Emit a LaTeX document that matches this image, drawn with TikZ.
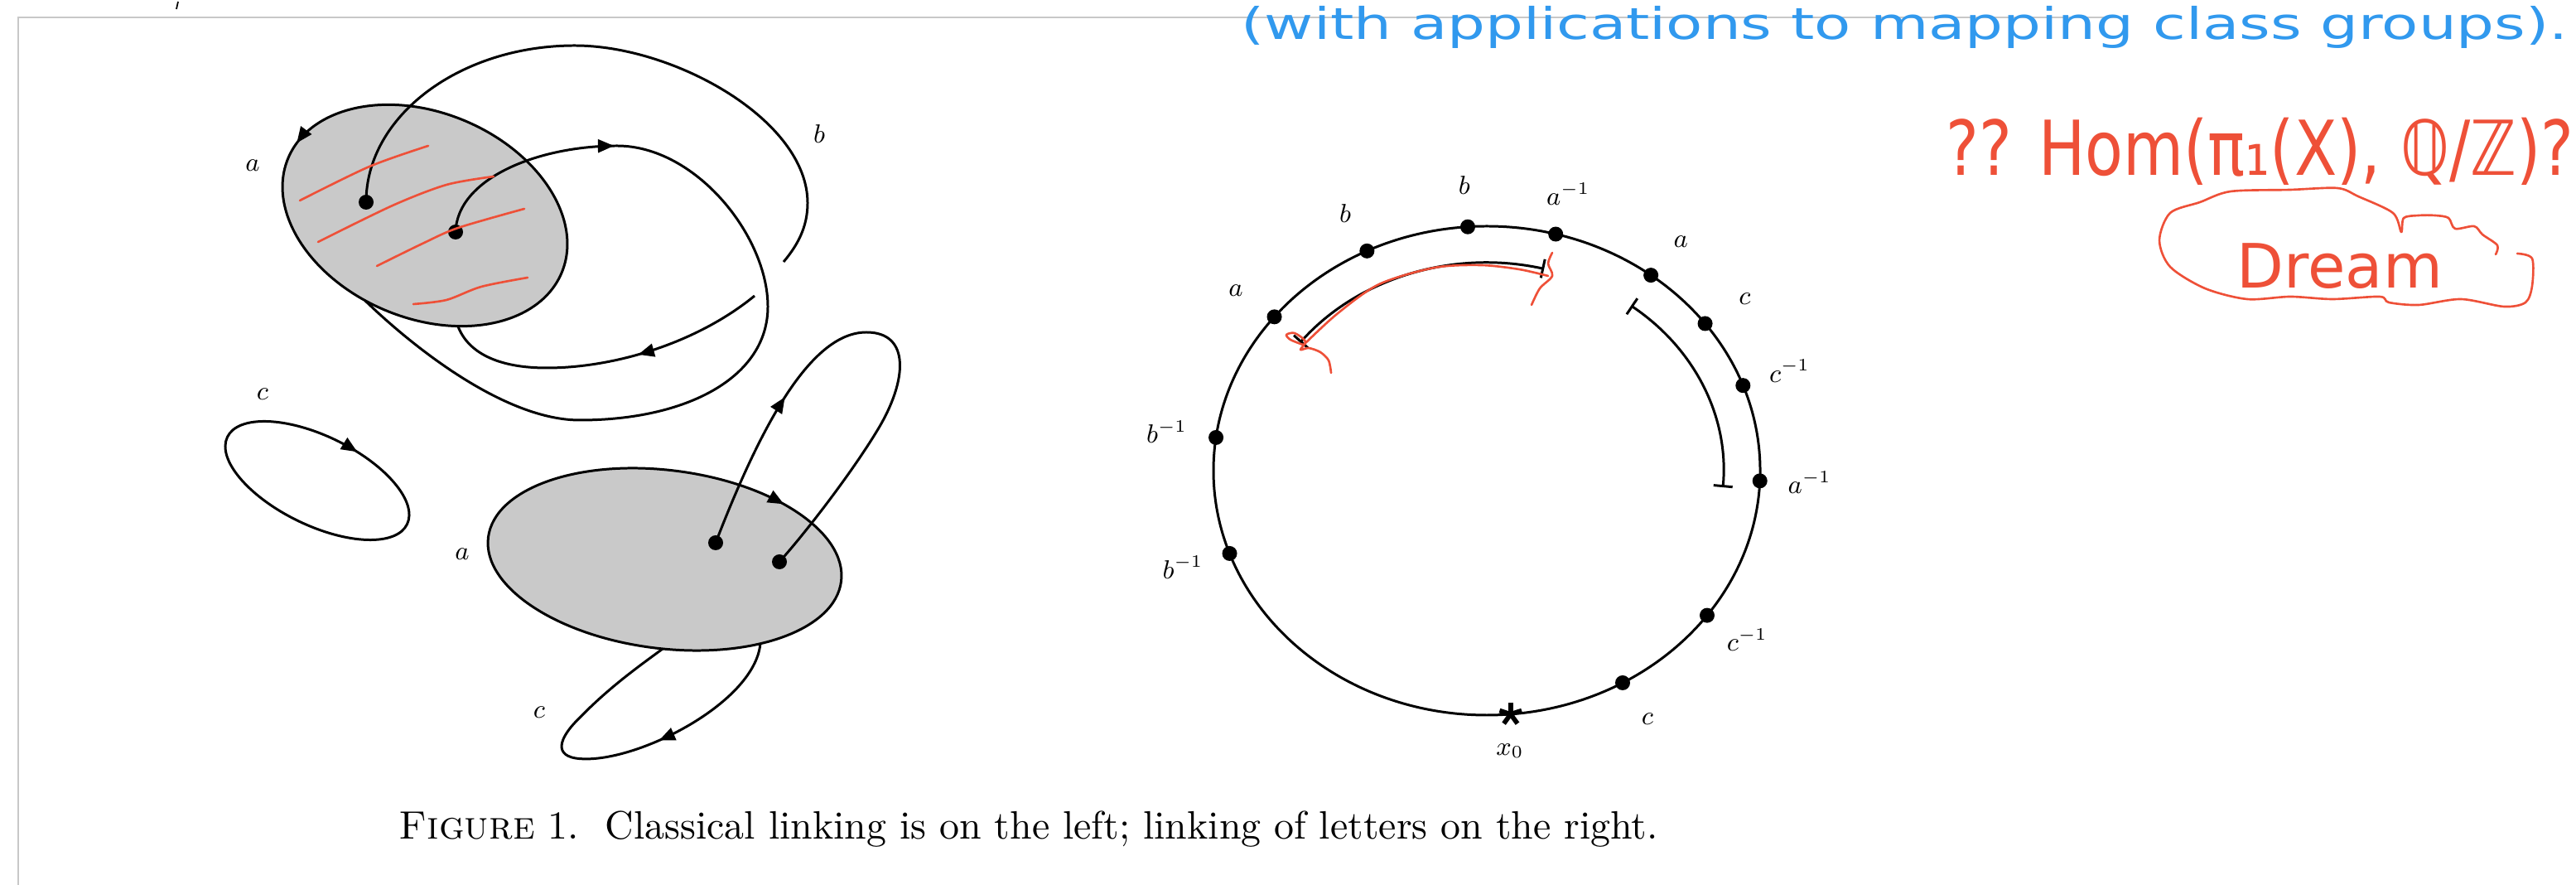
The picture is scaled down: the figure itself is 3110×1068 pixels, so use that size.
\documentclass[tikz,border=0pt]{standalone}
\usepackage{amsmath,amssymb}
\usepackage{fontspec}
\usepackage{graphicx}
\usetikzlibrary{arrows.meta,decorations.markings,calc}
\newfontfamily\handfont{DejaVu Sans}
\definecolor{diskgray}{HTML}{C9C9C9}
\definecolor{pen}{HTML}{EE5038}
\definecolor{ink}{HTML}{3199EE}
\definecolor{framegray}{HTML}{C8C8C8}

\tikzset{
  curve/.style={line width=0.85pt},
  disk/.style={curve, fill=diskgray},
  spot/.style={circle, fill, inner sep=0pt, minimum size=0.18cm},
  lab/.style={font=\small, inner sep=0pt},
  arrowat/.style={postaction={decorate}, decoration={markings,
      mark=at position #1 with {\arrow{Triangle[length=5.5pt,width=4.5pt]}}}},
  capped/.style={curve, arrows={Bar[width=0.23cm]-Bar[width=0.23cm]}},
  scribble/.style={draw=pen, line width=0.75pt, line cap=round, line join=round}
}

\begin{document}
\begin{tikzpicture}[x=0.01cm, y=-0.01cm]
  \useasboundingbox (0,0) rectangle (3110,1068);
  % edge of the page
  \draw[framegray, line width=0.6pt] (22,1068) -- (22,21) -- (2561,21);
  \draw[line width=0.5pt] (215,2) -- (213,11);

  % classical linking: upper disk a
  \coordinate (p1) at (442,244);
  \coordinate (p2) at (550,280);
  \begin{scope}[shift={(513,260)}, rotate=-22.7]
    \draw[disk, arrowat=0.478] (0:179 and 124) arc[start angle=0, end angle=-360, x radius=179, y radius=124] -- cycle;
  \end{scope}
  \draw[curve] (p1) .. controls (442,140) and (555,55) .. (694,55)
    .. controls (814,55) and (975,145) .. (975,245)
    .. controls (975,275) and (962,297) .. (946,316);
  \draw[curve, arrowat=0.40] (911,357) .. controls (840,415) and (740,444) .. (660,444)
    .. controls (600,444) and (565,425) .. (553,394);
  \draw[curve, arrowat=0.21] (p2) .. controls (552,215) and (650,176) .. (745,176)
    .. controls (840,176) and (927,285) .. (927,370)
    .. controls (927,455) and (830,507) .. (700,507)
    .. controls (610,507) and (500,420) .. (441,363);
  \node[spot] (d1) at (p1) {};
  \node[spot] (d2) at (p2) {};

  % small loop c
  \begin{scope}[shift={(383,580)}, rotate=-25.9]
    \draw[curve, arrowat=0.80] (0:120.6 and 53.8) arc[start angle=0, end angle=360, x radius=120.6, y radius=53.8] -- cycle;
  \end{scope}

  % lower disk a
  \draw[curve, arrowat=0.37] (918,776) .. controls (912,850) and (760,925) .. (695,915)
    .. controls (665,910) and (680,885) .. (700,866)
    .. controls (735,830) and (770,805) .. (800,783);
  \begin{scope}[shift={(802.5,675)}, rotate=-7.1]
    \draw[disk, arrowat=0.882] (0:214.7 and 107.6) arc[start angle=0, end angle=360, x radius=214.7, y radius=107.6] -- cycle;
  \end{scope}
  \coordinate (p3) at (864,655);
  \coordinate (p4) at (941,678);
  \draw[curve, arrowat=0.29] (p3) .. controls (920,510) and (980,401) .. (1046,401)
    .. controls (1100,401) and (1095,460) .. (1060,518)
    .. controls (1030,568) and (975,640) .. (p4);
  \node[spot] (d3) at (p3) {};
  \node[spot] (d4) at (p4) {};

  \node[lab] (la1) at (305,200) {$a$};
  \node[lab] (lb1) at (989,162) {$b$};
  \node[lab] (lc1) at (317,476) {$c$};
  \node[lab] (la2) at (558,669) {$a$};
  \node[lab] (lc2) at (651,860) {$c$};

  % red hatching on the upper disk
  \draw[scribble] plot[smooth] coordinates {(362,242) (446,201) (517,176)};
  \draw[scribble] plot[smooth] coordinates {(384,292) (474,248) (539,223) (596,213)};
  \draw[scribble] plot[smooth] coordinates {(455,321) (510,294) (553,275) (633,252)};
  \draw[scribble] plot[smooth] coordinates {(499,367) (539,362) (581,346) (637,335)};

  % linking of letters
  \coordinate (cc) at (1795,568);
  \draw[curve] (cc) ellipse [x radius=330, y radius=295];
  \foreach \t/\l [count=\i] in {266/b, 284.6/a^{-1}, 244/b, 306.9/a, 219/a, 323/c, 339.6/c^{-1}, 2.4/a^{-1}, 187.8/b^{-1}, 160.2/b^{-1}, 36.3/c^{-1}, 60.2/c} {
    \node[spot] (w\i) at ($(cc)+(\t:330 and 295)$) {};
    \node[lab] (wl\i) at ($(cc)+(\t:390 and 345)$) {$\l$};
  }
  \coordinate (x0) at ($(cc)+(85:330 and 295)$);
  \foreach \a in {270,342,54,126,198}
    \draw[line width=1.6pt] (x0) -- ++(\a:14);
  \node[lab] (lx0) at (1823,906) {$x_0$};
  \draw[capped] ($(cc)+(218:286 and 251)$) arc[start angle=218, end angle=284, x radius=286, y radius=251];
  \draw[capped] ($(cc)+(307.5:286 and 251)$) arc[start angle=307.5, end angle=364.6, x radius=286, y radius=251];

  % red marks on the circle
  \draw[scribble] plot[smooth] coordinates {(1573,417) (1614,379) (1665,343) (1732,323) (1788,320) (1834,325) (1869,333)};
  \draw[scribble] plot[smooth] coordinates {(1573,416) (1558,410) (1553,404) (1563,402) (1576,412) (1570,422) (1580,420) (1594,425) (1604,435) (1607,450)};
  \draw[scribble] plot[smooth] coordinates {(1874,305) (1869,318) (1874,333) (1859,348) (1849,368)};

  % handwritten notes
  \node[text=ink, anchor=base west, inner sep=0pt] (note) at (1498,48) {\handfont\fontsize{15}{18}\selectfont\scalebox{1.37}[1]{(with applications to mapping class groups).}};
  \node[text=pen, anchor=base west, inner sep=0pt] (hom) at (2349,212) {\handfont\fontsize{26}{30}\selectfont\scalebox{0.82}[1]{?? Hom(π₁(X), ℚ/ℤ)?}};
  \node[text=pen, anchor=base west, inner sep=0pt] (dream) at (2700,348) {\handfont\fontsize{21}{24}\selectfont Dream};
  \draw[scribble] plot[smooth] coordinates {(3039,306) (3057,312) (3057,345) (3049,365) (3023,370) (2971,361) (2920,368) (2884,365) (2873,358) (2816,361) (2765,358) (2713,361) (2662,348) (2620,322) (2607,290) (2620,257) (2656,244) (2693,231) (2765,229) (2822,227) (2847,237) (2889,257) (2899,280) (2902,263) (2920,260) (2940,260) (2956,263) (2964,276) (2987,273) (2997,283) (3015,296) (3013,307)};

  % caption
  \node[anchor=base west, inner sep=0pt] (cap) at (481,1013) {\resizebox{15.19cm}{!}{\textsc{Figure}~1.\ \ Classical linking is on the left; linking of letters on the right.}};
\end{tikzpicture}
\end{document}
